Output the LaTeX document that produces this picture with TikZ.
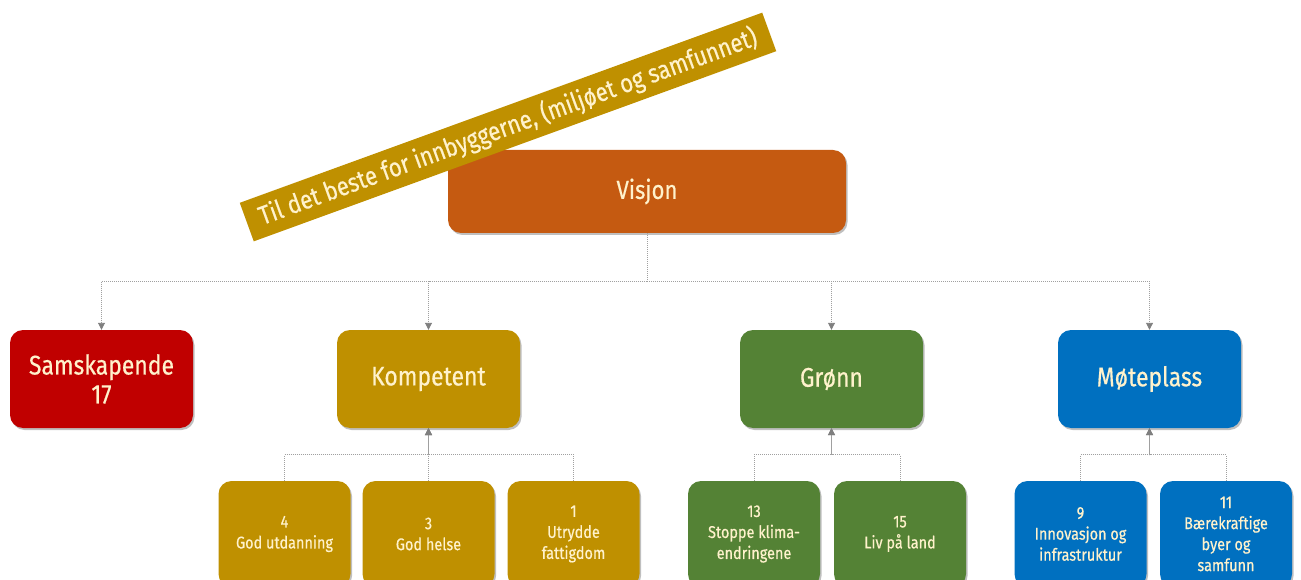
\documentclass[tikz,border=0pt]{standalone}
\usepackage{fontspec}
\setmainfont{Fira Sans}[FakeStretch=0.85,FakeBold=0.5]
\usetikzlibrary{arrows.meta,shadows}
\definecolor{vis}{HTML}{C55A11}
\definecolor{red1}{HTML}{C00000}
\definecolor{gold}{HTML}{BF9000}
\definecolor{grn}{HTML}{548235}
\definecolor{blu}{HTML}{0070C0}
\definecolor{txt}{HTML}{FFF2CC}
\definecolor{lin}{HTML}{A0A0A0}
\definecolor{tip}{HTML}{7F7F7F}
\begin{document}
\begin{tikzpicture}[x=1pt,y=-1pt,
  box/.style={rounded corners=13pt, text=txt, align=center, inner sep=0pt,
    drop shadow={shadow xshift=1.5pt, shadow yshift=-2pt, opacity=0.25, fill=black}},
  topbox/.style={box, minimum width=183pt, minimum height=98pt, font=\fontsize{27}{29}\selectfont},
  subbox/.style={box, minimum width=132pt, minimum height=106pt, font=\fontsize{17}{21}\selectfont},
  conn/.style={draw=lin, line width=0.9pt, dash pattern=on 1pt off 1pt},
  arr/.style={conn, -{Triangle[width=7pt,length=7pt,fill=tip,color=tip]}}]
\useasboundingbox (0,0) rectangle (1301,580);
\clip (0,0) rectangle (1301,580);
% top
\node[box, fill=vis, minimum width=398pt, minimum height=83pt, font=\fontsize{26}{29}\selectfont] (vis) at (647,191.5) {Visjon};
\node[topbox, fill=red1] (sam) at (101.5,379) {Samskapende\\17};
\node[topbox, fill=gold] (komp) at (428.5,379) {\raisebox{-3pt}{Kompetent}};
\node[topbox, fill=grn] (gronn) at (831.5,379) {\raisebox{-4pt}{Grønn}};
\node[topbox, fill=blu] (mote) at (1149.5,379) {\raisebox{-2pt}{Møteplass}};
% bottom
\node[subbox, fill=gold] (b4) at (284.5,534) {4\\God utdanning};
\node[subbox, fill=gold] (b3) at (428.5,534) {3\\God helse};
\node[subbox, fill=gold] (b1) at (573.5,534) {1\\Utrydde\\fattigdom};
\node[subbox, fill=grn] (b13) at (754,534) {13\\Stoppe klima-\\endringene};
\node[subbox, fill=grn] (b15) at (900,534) {15\\Liv på land};
\node[subbox, fill=blu] (b9) at (1080.5,534) {9\\Innovasjon og\\infrastruktur};
\node[subbox, fill=blu] (b11) at (1226,534) {11\\Bærekraftige\\byer og\\samfunn};
% connectors top
\foreach \t in {sam,komp,gronn,mote}
  \draw[arr] (vis.south) -- ++(0,48) -| (\t.north);
% connectors bottom
\draw[arr] (b4.north) -- ++(0,-26) -| (komp.south);
\draw[arr] (b1.north) -- ++(0,-26) -| (komp.south);
\draw[arr] (b3.north) -- (komp.south);
\draw[arr] (b13.north) -- ++(0,-26) -| (gronn.south);
\draw[arr] (b15.north) -- ++(0,-26) -| (gronn.south);
\draw[arr] (b9.north) -- ++(0,-26) -| (mote.south);
\draw[arr] (b11.north) -- ++(0,-26) -| (mote.south);
% banner
\node[fill=gold, text=txt, rotate=20, minimum width=556pt, minimum height=41pt, inner sep=0pt,
  font=\fontsize{26}{30}\selectfont] (ban) at (508,127) {Til det beste for innbyggerne, (miljøet og samfunnet)};
\end{tikzpicture}
\end{document}
